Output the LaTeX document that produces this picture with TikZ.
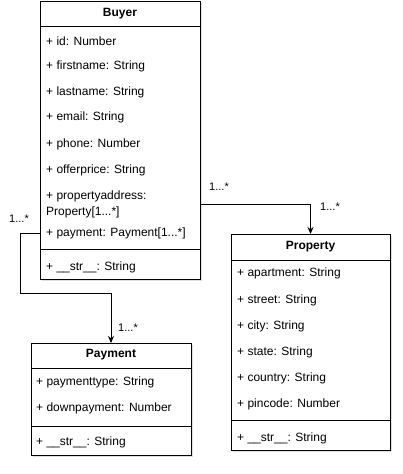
\documentclass[tikz,border=0pt]{standalone}
\usepackage{fontspec}
\setmainfont{Liberation Sans}
\usetikzlibrary{arrows.meta,shadows}
\begin{document}
\begin{tikzpicture}[x=1pt,y=-1pt,
 box/.style={draw, fill=white, line width=0.9pt, inner sep=0pt, outer sep=0pt,
   drop shadow={opacity=0.25, shadow xshift=2pt, shadow yshift=-2pt}},
 hdr/.style={font=\fontsize{12}{14}\selectfont\bfseries, inner sep=0pt},
 item/.style={anchor=west, font=\fontsize{12}{16}\selectfont, inner sep=0pt, align=left},
 mult/.style={font=\fontsize{11}{13}\selectfont, inner sep=0pt},
 conn/.style={line width=0.8pt, -{Stealth[length=7pt,width=6pt]}},
 sepline/.style={line width=0.9pt}]
\useasboundingbox (0,0) rectangle (402,474);

% Buyer
\node[box, minimum width=160pt, minimum height=278pt] (buyer) at (120,140) {};
\draw[sepline] (40,26) -- (200,26);
\draw[sepline] (40,249) -- (200,249);
\node[hdr] (buyerh) at (120,14) {Buyer};
\node[item] (b1) at (46,41) {+ id: Number};
\node[item] (b2) at (46,66) {+ firstname: String};
\node[item] (b3) at (46,92) {+ lastname: String};
\node[item] (b4) at (46,117) {+ email: String};
\node[item] (b5) at (46,144) {+ phone: Number};
\node[item] (b6) at (46,170) {+ offerprice: String};
\node[item] (pa) at (46,204) {+ propertyaddress:\\Property[1...*]};
\node[item] (pay) at (46,233) {+ payment: Payment[1...*]};
\node[item] (bs) at (46,267) {+ \_\_str\_\_: String};

% Property
\node[box, minimum width=159pt, minimum height=216pt] (property) at (310.5,342) {};
\draw[sepline] (231,260) -- (390,260);
\draw[sepline] (231,420) -- (390,420);
\node[hdr] (propertyh) at (310.5,247) {Property};
\node[item] (p1) at (237,273) {+ apartment: String};
\node[item] (p2) at (237,300) {+ street: String};
\node[item] (p3) at (237,326) {+ city: String};
\node[item] (p4) at (237,352) {+ state: String};
\node[item] (p5) at (237,378) {+ country: String};
\node[item] (p6) at (237,404) {+ pincode: Number};
\node[item] (ps) at (237,438) {+ \_\_str\_\_: String};

% Payment
\node[box, minimum width=160pt, minimum height=112pt] (payment) at (111,399) {};
\draw[sepline] (31,368) -- (191,368);
\draw[sepline] (31,426) -- (191,426);
\node[hdr] (paymenth) at (111,355) {Payment};
\node[item] (y1) at (36,382) {+ paymenttype: String};
\node[item] (y2) at (36,408) {+ downpayment: Number};
\node[item] (ys) at (36,442) {+ \_\_str\_\_: String};

% connectors
\draw[conn] (buyer.east |- pa.center) -| (property.north);
\coordinate (c1) at (20,293);
\draw[conn] (buyer.west |- pay.center) -| (c1) -| (payment.north);

% multiplicities
\node[mult] (m1) at (219,187) {1...*};
\node[mult] (m2) at (330,207) {1...*};
\node[mult] (m3) at (19,219) {1...*};
\node[mult] (m4) at (128,328) {1...*};
\end{tikzpicture}
\end{document}
